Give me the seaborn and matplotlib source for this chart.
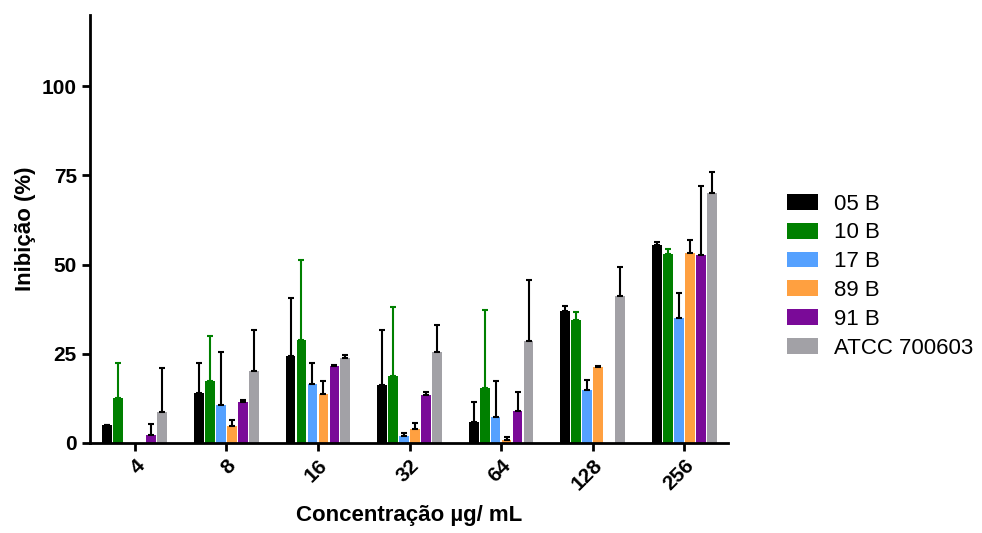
import matplotlib
matplotlib.use("Agg")
import matplotlib.pyplot as plt
import seaborn as sns
import pandas as pd

# --- Inibição por concentração (média + DP) ---

conc = ["4", "8", "16", "32", "64", "128", "256"]
strains = ["05 B", "10 B", "17 B", "89 B", "91 B", "ATCC 700603"]

b05 = [4.9, 14.0, 24.5, 16.1, 6.0, 37.1, 55.6]
b05_sd = [0.2, 8.3, 16.2, 15.5, 5.5, 1.4, 0.6]
b10 = [12.6, 17.3, 28.8, 18.8, 15.5, 34.5, 53.0]
b10_sd = [9.9, 12.8, 22.6, 19.4, 21.9, 2.2, 1.5]
b17 = [0, 10.5, 16.5, 2.0, 7.3, 14.8, 34.9]
b17_sd = [0, 14.9, 5.8, 0.8, 10.1, 2.9, 7.2]
b89 = [0, 4.8, 13.8, 4.0, 0.8, 21.4, 53.3]
b89_sd = [0, 1.6, 3.6, 1.7, 0.8, 0.2, 3.7]
b91 = [2.2, 11.6, 21.5, 13.3, 8.9, 0, 52.7]
b91_sd = [3.0, 0.3, 0.3, 0.9, 5.5, 0, 19.2]
atcc = [8.6, 20.3, 23.7, 25.6, 28.6, 41.3, 70.1]
atcc_sd = [12.3, 11.4, 0.9, 7.5, 17.1, 7.9, 6.0]

colors = ["#000000", "#008000", "#55A1FF", "#FFA040", "#7A0A98", "#A2A1A6"]
err_colors = ["#000000", "#008000", "#000000", "#000000", "#000000", "#000000"]

means = [b05, b10, b17, b89, b91, atcc]
sds = [b05_sd, b10_sd, b17_sd, b89_sd, b91_sd, atcc_sd]

rows = []
for s, m in zip(strains, means):
    for c, v in zip(conc, m):
        rows.append({"conc": c, "strain": s, "value": v})
df = pd.DataFrame(rows)

sns.set_style("ticks")
plt.rcParams["font.family"] = ["Liberation Sans", "DejaVu Sans"]
plt.rcParams.update({"text.color": "black", "axes.labelcolor": "black",
                     "xtick.color": "black", "ytick.color": "black",
                     "axes.edgecolor": "black"})

fig = plt.figure(figsize=(9.82, 5.33), dpi=100)
ax = fig.add_axes([0.0917, 0.169, 0.6497, 0.803])

sns.barplot(data=df, x="conc", y="value", hue="strain", order=conc,
            hue_order=strains, palette=colors, width=0.72, gap=0.1,
            errorbar=None, saturation=1, linewidth=0, ax=ax)

# one-sided error bars (mean + SD)
for cont, sd, ec in zip(ax.containers, sds, err_colors):
    for bar, e in zip(cont, sd):
        h = bar.get_height()
        if h == 0 and e == 0:
            continue
        xc = bar.get_x() + bar.get_width() / 2
        ax.errorbar(xc, h, yerr=[[0], [e]], fmt="none", ecolor=ec,
                    elinewidth=1.5, capsize=2, capthick=1.5, zorder=1)

ax.set_ylim(0, 120)
ax.set_xlim(-0.49, 6.48)
ax.set_yticks([0, 25, 50, 75, 100])
sns.despine(ax=ax)
for sp in ["left", "bottom"]:
    ax.spines[sp].set_linewidth(2)
ax.tick_params(width=2, length=6)

ax.set_xticks(range(len(conc)))
ax.set_xticklabels(conc, rotation=45, ha="right", rotation_mode="anchor",
                   fontsize=15, fontweight="bold")
for t in ax.get_yticklabels():
    t.set_fontsize(15)
    t.set_fontweight("bold")

ax.set_ylabel("Inibição (%)", fontsize=16, fontweight="bold")
ax.set_xlabel("Concentração µg/ mL", fontsize=16, fontweight="bold")
ax.xaxis.set_label_coords(0.5, -0.145)

handles, labels = ax.get_legend_handles_labels()
ax.legend_.remove()
fig.legend(handles, labels, loc="center left", bbox_to_anchor=(0.781, 0.482),
           frameon=False, fontsize=16, handlelength=1.4, handleheight=0.72,
           handletextpad=0.7, labelspacing=0.35)

plt.savefig("out.png", dpi=100)
